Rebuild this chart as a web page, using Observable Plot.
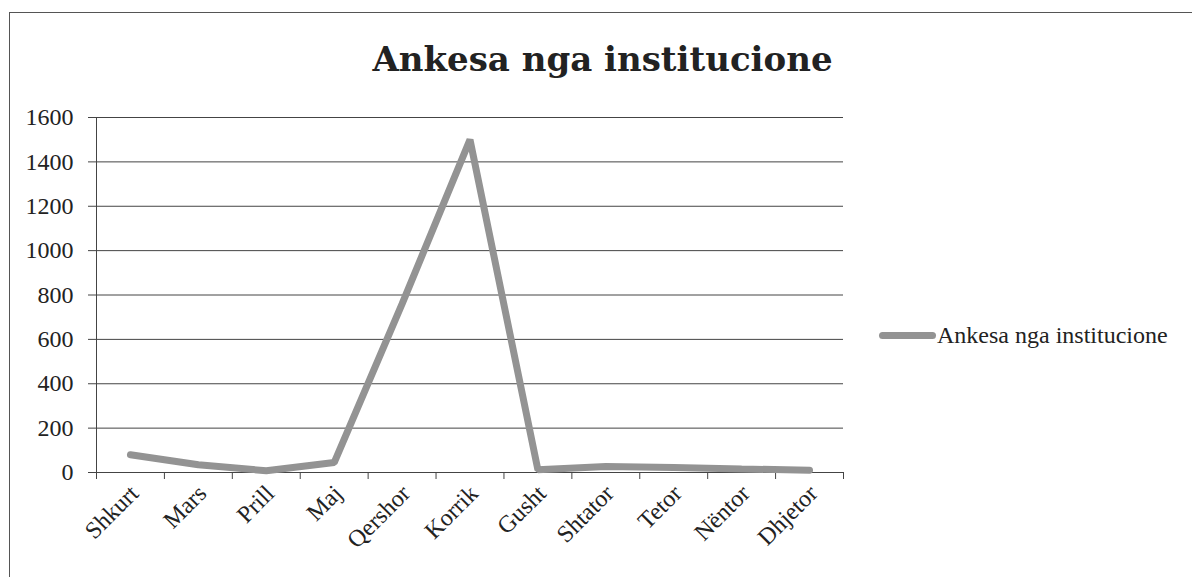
<!DOCTYPE html>
<html>
<head>
<meta charset="utf-8">
<script src="https://cdn.jsdelivr.net/npm/d3@7"></script>
<script src="https://cdn.jsdelivr.net/npm/@observablehq/plot@0.6"></script>
<style>
  html, body { margin: 0; padding: 0; background: #fff; width: 1192px; height: 577px; overflow: hidden; }
  #wrap { position: relative; width: 1192px; height: 577px; }
  #frame { position: absolute; left: 9px; top: 12px; width: 1300px; height: 700px; border-left: 1.5px solid #555; border-top: 1.5px solid #555; }
  #title { position: absolute; left: 0; width: 1205px; top: 39px; text-align: center; font-family: "DejaVu Serif", serif; font-weight: bold; font-size: 34px; color: #222; }
  #chart { position: absolute; left: 0; top: 0; }
  #legend { position: absolute; left: 879px; top: 322px; font-family: "Liberation Serif", serif; font-size: 24px; color: #222; display: flex; align-items: center; white-space: nowrap; }
  #legend .sw { width: 57px; height: 7px; border-radius: 4px; background: #939393; margin-right: 1px; }
</style>
</head>
<body>
<div id="wrap">
  <div id="frame"></div>
  <div id="chart"></div>
  <div id="title"></div>
  <div id="legend"><span class="sw"></span><span id="legtext"></span></div>
</div>
<script>
const chartTitle = "Ankesa nga institucione";
const seriesName = "Ankesa nga institucione";
const months = ["Shkurt", "Mars", "Prill", "Maj", "Qershor", "Korrik", "Gusht", "Shtator", "Tetor", "Nëntor", "Dhjetor"];
const values = [80, 35, 8, 45, 760, 1500, 12, 27, 23, 16, 10];
const yTicks = [0, 200, 400, 600, 800, 1000, 1200, 1400, 1600];

document.getElementById("title").textContent = chartTitle;
document.getElementById("legtext").textContent = seriesName;

const data = months.map((m, i) => ({i, month: m, value: values[i]}));
const idx = months.map((m, i) => i);
const bounds = [-0.5, ...idx.map(i => i + 0.5)];

const plot = Plot.plot({
  width: 1192,
  height: 577,
  marginLeft: 96,
  marginRight: 349,
  marginTop: 117,
  marginBottom: 105,
  style: {fontFamily: "Liberation Serif, serif", fontSize: "24px", color: "#222", background: "transparent"},
  x: {type: "linear", domain: [-0.5, months.length - 0.5]},
  y: {domain: [0, 1600]},
  marks: [
    Plot.gridY(yTicks, {stroke: "#444", strokeOpacity: 1, strokeWidth: 1}),
    Plot.axisY(yTicks, {tickSize: 8, tickPadding: 15, tickFormat: d => String(d), stroke: "#444", strokeOpacity: 1, fill: "#222", label: null}),
    Plot.ruleX([-0.5], {stroke: "#444"}),
    Plot.ruleY([0], {stroke: "#444"}),
    Plot.axisX(bounds, {tickSize: 7, tickFormat: () => "", stroke: "#444", strokeOpacity: 1, label: null}),
    Plot.axisX(idx, {tickSize: 0, tickPadding: 17, tickRotate: -45, tickFormat: i => months[i], fill: "#222", label: null, dx: 4}),
    Plot.line(data, {x: "i", y: "value", stroke: "#939393", strokeWidth: 7, strokeLinejoin: "miter", strokeLinecap: "round"})
  ]
});
document.getElementById("chart").appendChild(plot);
</script>
</body>
</html>
